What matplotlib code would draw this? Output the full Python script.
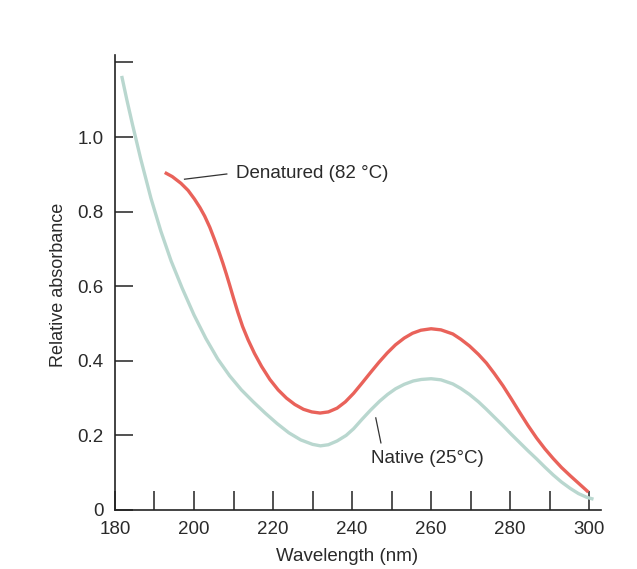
import matplotlib
matplotlib.use("Agg")
import matplotlib.pyplot as plt

plt.rcParams['font.family'] = ['Liberation Sans', 'DejaVu Sans']

# Native (25 °C)
native_wl = [181.7, 183.0, 184.4, 186.5, 189.1, 191.6, 194.2, 197.0, 200.0, 203.0,
             206.0, 209.0, 212.0, 215.0, 218.0, 221.0, 224.0, 227.0, 230.0, 232.0,
             234.0, 236.2, 238.5, 240.4, 242.5, 244.7, 247.0, 249.0, 251.0, 253.2,
             255.5, 257.5, 260.0, 262.5, 265.5, 267.5, 269.7, 272.0, 274.0, 276.0,
             278.2, 280.3, 282.4, 284.5, 286.7, 288.8, 290.9, 293.0, 295.2, 297.3,
             299.4, 301.1]
native_abs = [1.164, 1.100, 1.035, 0.942, 0.836, 0.748, 0.668, 0.595, 0.523, 0.460,
              0.405, 0.360, 0.322, 0.290, 0.260, 0.232, 0.207, 0.188, 0.176, 0.172,
              0.175, 0.185, 0.200, 0.218, 0.243, 0.268, 0.292, 0.310, 0.325, 0.337,
              0.346, 0.350, 0.352, 0.349, 0.338, 0.326, 0.310, 0.290, 0.270, 0.249,
              0.226, 0.203, 0.181, 0.159, 0.137, 0.115, 0.094, 0.075, 0.058, 0.044,
              0.034, 0.029]

# Denatured (82 °C)
denat_wl = [192.6, 194.5, 196.7, 198.5, 200.1, 201.5, 202.7, 204.0, 205.2, 206.3,
            207.3, 208.2, 209.0, 210.0, 211.1, 212.3, 213.7, 215.3, 217.1, 219.2,
            221.3, 223.4, 225.5, 227.7, 229.8, 231.9, 234.0, 236.2, 238.3, 240.4,
            242.5, 244.7, 246.8, 248.9, 251.0, 253.2, 255.3, 257.4, 260.0, 262.5,
            265.5, 267.5, 269.7, 272.0, 274.0, 276.0, 278.2, 280.3, 282.4, 284.5,
            286.7, 288.8, 290.9, 293.0, 295.2, 297.5, 299.8]
denat_abs = [0.905, 0.894, 0.876, 0.857, 0.834, 0.811, 0.788, 0.758, 0.725, 0.693,
             0.662, 0.632, 0.604, 0.568, 0.530, 0.492, 0.456, 0.420, 0.385, 0.350,
             0.322, 0.300, 0.283, 0.270, 0.263, 0.260, 0.263, 0.273, 0.290, 0.313,
             0.340, 0.369, 0.396, 0.421, 0.443, 0.461, 0.474, 0.482, 0.486, 0.483,
             0.472, 0.458, 0.440, 0.417, 0.394, 0.366, 0.333, 0.298, 0.262, 0.227,
             0.193, 0.164, 0.138, 0.114, 0.092, 0.070, 0.048]

x_major = [180, 200, 220, 240, 260, 280, 300]
x_major_labels = ['180', '200', '220', '240', '260', '280', '300']
x_minor = [190, 210, 230, 250, 270, 290]
y_ticks = [0, 0.2, 0.4, 0.6, 0.8, 1.0, 1.2]
y_labels = ['0', '0.2', '0.4', '0.6', '0.8', '1.0', '']

label_denat = 'Denatured (82 °C)'
label_native = 'Native (25°C)'

fig = plt.figure(figsize=(6.37, 5.69), dpi=100)
ax = fig.add_axes([0.1805, 0.1037, 0.763, 0.7996])

red = '#e9625a'
teal = '#b9d7cf'
txt = '#2a2a2a'

ax.plot(native_wl, native_abs, color=teal, lw=2.4, solid_capstyle='butt',
        solid_joinstyle='round')
ax.plot(denat_wl, denat_abs, color=red, lw=2.4, solid_capstyle='butt',
        solid_joinstyle='round')

ax.set_xlim(180, 303)
ax.set_ylim(0, 1.22)

for s in ['top', 'right']:
    ax.spines[s].set_visible(False)
for s in ['left', 'bottom']:
    ax.spines[s].set_linewidth(1.2)
    ax.spines[s].set_color('#222222')

ax.set_xticks(x_major)
ax.set_xticklabels(x_major_labels)
ax.set_xticks(x_minor, minor=True)
ax.set_yticks(y_ticks)
ax.set_yticklabels(y_labels)

ax.tick_params(axis='x', which='both', direction='in', length=14, width=1.1,
               color='#222222', labelsize=13.5, labelcolor=txt, pad=8)
ax.tick_params(axis='y', which='both', direction='in', length=13, width=1.1,
               color='#222222', labelsize=13.5, labelcolor=txt, pad=8)

# annotations
ax.plot([197.6, 208.3], [0.887, 0.901], color='#333333', lw=0.9)
ax.text(210.6, 0.903, label_denat, fontsize=13.5, color=txt, ha='left', va='center')
ax.plot([246.0, 247.3], [0.247, 0.180], color='#333333', lw=0.9)
ax.text(244.8, 0.137, label_native, fontsize=13.5, color=txt, ha='left', va='center')

fig.text(0.545, 0.0228, 'Wavelength (nm)', fontsize=13.5, color=txt, ha='center', va='center')
fig.text(0.0915, 0.499, 'Relative absorbance', fontsize=13, color=txt, ha='center',
         va='center', rotation=90)

fig.savefig('out.png', dpi=100)
